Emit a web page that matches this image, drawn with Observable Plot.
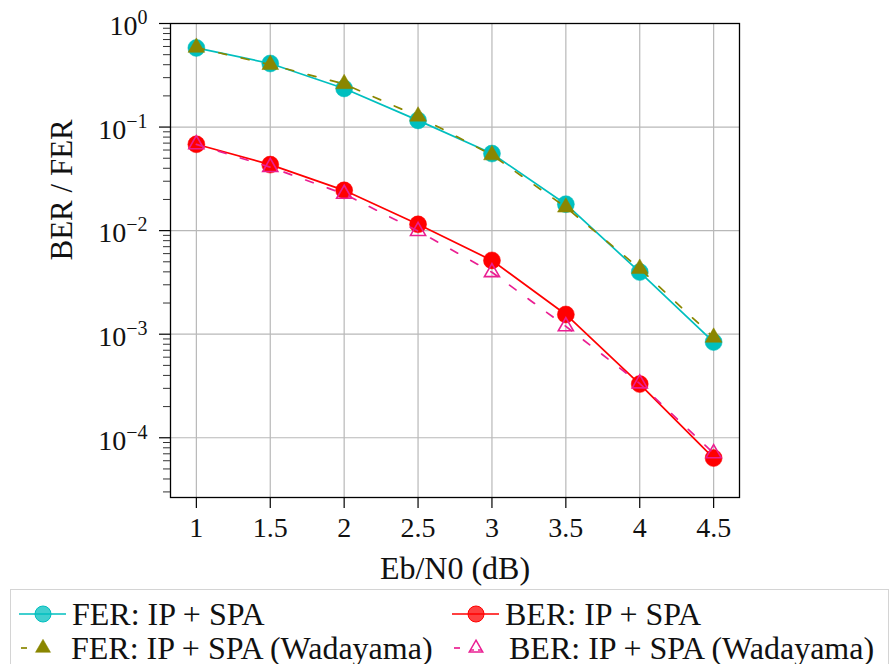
<!DOCTYPE html>
<html><head><meta charset="utf-8">
<script src="https://cdn.jsdelivr.net/npm/d3@7"></script>
<script src="https://cdn.jsdelivr.net/npm/@observablehq/plot@0.6"></script>
<style>
html,body{margin:0;padding:0;background:#fff;overflow:hidden;width:891px;height:664px;}
#chart{position:absolute;left:0;top:0;}
#legend{position:absolute;left:10px;top:589px;width:879px;height:90px;border:1px solid #d4d4d4;box-sizing:border-box;font-family:"Liberation Serif","DejaVu Serif","Times New Roman",serif;font-size:32px;color:#111;}
.item{position:absolute;display:flex;align-items:center;white-space:nowrap;height:34px;}
.item svg{flex:none;}
</style></head><body>
<div id="chart"></div><div id="legend"></div>
<script>
// ---- data ----
const ebn0 = [1, 1.5, 2, 2.5, 3, 3.5, 4, 4.5];
const ferIpSpa = [0.581, 0.411, 0.236, 0.116, 0.0555, 0.0180, 0.00398, 0.00084];
const berIpSpa = [0.0682, 0.0434, 0.0245, 0.0115, 0.00516, 0.00155, 0.00033, 0.0000637];
const ferWadayama = [0.586, 0.40, 0.261, 0.127, 0.0537, 0.0168, 0.0043, 0.00093];
const berWadayama = [0.068, 0.041, 0.0226, 0.0099, 0.00396, 0.00119, 0.000334, 0.0000707];
const seriesNames = ["FER: IP + SPA", "BER: IP + SPA", "FER: IP + SPA (Wadayama)", "BER: IP + SPA (Wadayama)"];
const xTicks = [1, 1.5, 2, 2.5, 3, 3.5, 4, 4.5];
const yMajors = [1, 1e-1, 1e-2, 1e-3, 1e-4];
const xLabel = "Eb/N0 (dB)";
const yLabel = "BER / FER";

// ---- styles ----
const styles = [
  {values: ferIpSpa, color: "#00bfbf", dash: null, symbol: "circle", filled: true},
  {values: berIpSpa, color: "#ff0000", dash: null, symbol: "circle", filled: true},
  {values: ferWadayama, color: "#8a8600", dash: "8,15", symbol: "triangle", filled: true},
  {values: berWadayama, color: "#ea1f92", dash: "8,15", symbol: "triangle", filled: false}
];
const yMinors = [];
for (let e = -5; e <= -1; e++) for (let m = 2; m <= 9; m++) {
  const v = m * Math.pow(10, e);
  if (v >= 2.65e-5 && v <= 1) yMinors.push(v);
}
const FONT = "'Liberation Serif', 'DejaVu Serif', 'Times New Roman', serif";

const marks = [
  Plot.gridX(xTicks, {stroke: "#b8b8b8", strokeOpacity: 1, strokeWidth: 1.2}),
  Plot.gridY(yMajors, {stroke: "#b8b8b8", strokeOpacity: 1, strokeWidth: 1.2}),
];
styles.forEach((s, k) => {
  const rows = ebn0.map((x, i) => ({x, y: s.values[i], series: seriesNames[k]}));
  marks.push(Plot.line(rows, {x: "x", y: "y", stroke: s.color, strokeWidth: 1.7, strokeDasharray: s.dash}));
  if (s.symbol === "circle") {
    marks.push(Plot.dot(rows, {x: "x", y: "y", r: 8.5, fill: s.color, stroke: s.color, strokeWidth: 0.5, symbol: "circle"}));
  } else if (s.filled) {
    marks.push(Plot.dot(rows, {x: "x", y: "y", r: 6.2, fill: s.color, stroke: s.color, strokeWidth: 0.5, symbol: "triangle"}));
  } else {
    marks.push(Plot.dot(rows, {x: "x", y: "y", r: 5.6, fill: "none", stroke: s.color, strokeWidth: 1.6, symbol: "triangle"}));
  }
});
marks.push(
  Plot.frame({stroke: "#000", strokeWidth: 1.3}),
  Plot.axisX(xTicks, {tickSize: 11, tickPadding: 9, tickFormat: d => String(d), label: null, fontSize: 28, stroke: "#000", strokeWidth: 1.2}),
  Plot.axisY(yMinors, {tickSize: 7, tickFormat: () => "", label: null, stroke: "#333", strokeWidth: 1}),
  Plot.axisY(yMajors, {tickSize: 11, tickPadding: 12, label: null, fontSize: 28, stroke: "#000", strokeWidth: 1.2,
    tickFormat: d => "10^" + Math.round(Math.log10(d))}),
  Plot.text([xLabel], {frameAnchor: "bottom", dy: 71, lineAnchor: "middle", fontSize: 32, fill: "#111"}),
  Plot.text([yLabel], {frameAnchor: "left", dx: -108, rotate: -90, lineAnchor: "middle", fontSize: 31, fill: "#111"})
);

const chart = Plot.plot({
  width: 891, height: 588,
  marginLeft: 170, marginRight: 152, marginTop: 23, marginBottom: 91,
  style: {fontFamily: FONT, fontSize: "28px", color: "#111", background: "#fff"},
  x: {domain: [0.825, 4.675], axis: null},
  y: {type: "log", domain: [2.65e-5, 1], axis: null},
  marks
});
document.getElementById("chart").appendChild(chart);
d3.select(chart).selectAll("text").style("font-family", FONT);

// superscript exponents on y tick labels
d3.select(chart).selectAll("text").each(function() {
  const t = this.textContent;
  const m = /^10\^(-?\d+)$/.exec(t);
  if (!m) return;
  const sel = d3.select(this);
  sel.text("");
  sel.append("tspan").attr("dy", "0.1em").text("10");
  sel.append("tspan").attr("dy", "-0.55em").attr("font-size", "20px").text(m[1].replace("-", "\u2212"));
});

// legend
const legend = document.getElementById("legend");
const pos = [[8, 7], [441, 7], [8, 41], [441, 41]];
const textGap = [3, 3, 2, 7];
styles.forEach((s, k) => {
  const div = document.createElement("div");
  div.className = "item";
  div.style.left = pos[k][0] + "px";
  div.style.top = pos[k][1] + "px";
  const w = 50, cy = 17, cx = 24;
  let g = "";
  if (!s.dash) {
    g += `<line x1="0" x2="${w - 3}" y1="${cy}" y2="${cy}" stroke="${s.color}" stroke-width="1.7"/>`;
    g += `<circle cx="${cx}" cy="${cy}" r="8" fill="${s.color}" fill-opacity="0.75" stroke="${s.color}" stroke-width="1"/>`;
  } else {
    g += `<line x1="2" x2="8" y1="${cy}" y2="${cy}" stroke="${s.color}" stroke-width="1.7"/>`;
    const tri = d3.symbol(d3.symbolTriangle, Math.PI * (s.filled ? 5.6 : 5.0) ** 2)();
    g += `<path transform="translate(${cx},${cy})" d="${tri}" fill="${s.filled ? s.color : "none"}" stroke="${s.color}" stroke-width="${s.filled ? 0.5 : 1.5}"/>`;
    if (!s.filled) g += `<line x1="${cx - 6}" x2="${cx + 6}" y1="${cy + 2}" y2="${cy + 2}" stroke="${s.color}" stroke-width="1.5" stroke-dasharray="4,4"/>`;
  }
  div.innerHTML = `<svg width="${w}" height="34">${g}</svg><span style="margin-left:${textGap[k]}px">${seriesNames[k]}</span>`;
  legend.appendChild(div);
});
</script>
</body></html>
